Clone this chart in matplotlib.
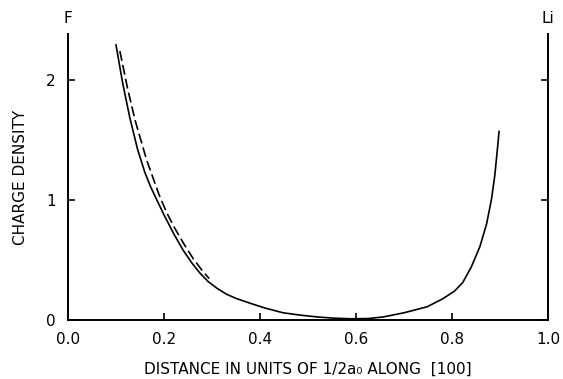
import matplotlib
matplotlib.use('Agg')
import matplotlib.pyplot as plt

# solid curve
x_solid = [0.100, 0.114, 0.129, 0.145, 0.160, 0.172, 0.185, 0.200, 0.220, 0.240, 0.258,
           0.275, 0.292, 0.310, 0.330, 0.350, 0.379, 0.410, 0.448, 0.485, 0.520, 0.555,
           0.590, 0.625, 0.656, 0.700, 0.748, 0.780, 0.805, 0.822, 0.840, 0.858,
           0.872, 0.882, 0.889, 0.894, 0.898]
y_solid = [2.29, 1.97, 1.68, 1.42, 1.23, 1.11, 1.00, 0.875, 0.72, 0.58, 0.475,
           0.39, 0.32, 0.265, 0.215, 0.18, 0.14, 0.10, 0.06, 0.04, 0.025, 0.015,
           0.01, 0.012, 0.025, 0.06, 0.11, 0.175, 0.24, 0.31, 0.44, 0.61,
           0.80, 1.00, 1.20, 1.40, 1.57]

# dashed curve
x_dash = [0.108, 0.124, 0.140, 0.164, 0.190, 0.206, 0.223, 0.242, 0.261, 0.278, 0.294]
y_dash = [2.24, 1.93, 1.66, 1.33, 1.04, 0.89, 0.76, 0.63, 0.51, 0.42, 0.345]

xticks = [0.0, 0.2, 0.4, 0.6, 0.8, 1.0]
xlabels = ['0.0', '0.2', '0.4', '0.6', '0.8', '1.0']
yticks = [0, 1, 2]

fig = plt.figure(figsize=(5.63, 3.79), dpi=100)
ax = fig.add_axes([0.1208, 0.1557, 0.8526, 0.754])

ax.plot(x_solid, y_solid, color='black', lw=1.2)
ax.plot(x_dash, y_dash, color='black', lw=1.2, ls=(0, (6, 2.5)))

ax.set_xlim(0, 1.0)
ax.set_ylim(0, 2.38)
ax.spines['top'].set_visible(False)
for s in ['left', 'right', 'bottom']:
    ax.spines[s].set_linewidth(1.4)

ax.set_xticks(xticks)
ax.set_xticklabels(xlabels)
ax.set_yticks(yticks)
ax.yaxis.set_ticks_position('both')
ax.tick_params(direction='in', length=5, width=1.2, labelsize=11, pad=9)
ax.tick_params(axis='y', labelright=False, pad=9)

ax.set_xlabel('DISTANCE IN UNITS OF 1/2a\u2080 ALONG  [100]', fontsize=11, labelpad=10)
ax.set_ylabel('CHARGE DENSITY', fontsize=11, labelpad=13)

ax.text(0.0, 1.03, 'F', transform=ax.transAxes, ha='center', va='bottom', fontsize=11)
ax.text(1.0, 1.03, 'Li', transform=ax.transAxes, ha='center', va='bottom', fontsize=11)

fig.savefig('out.png', dpi=100)
